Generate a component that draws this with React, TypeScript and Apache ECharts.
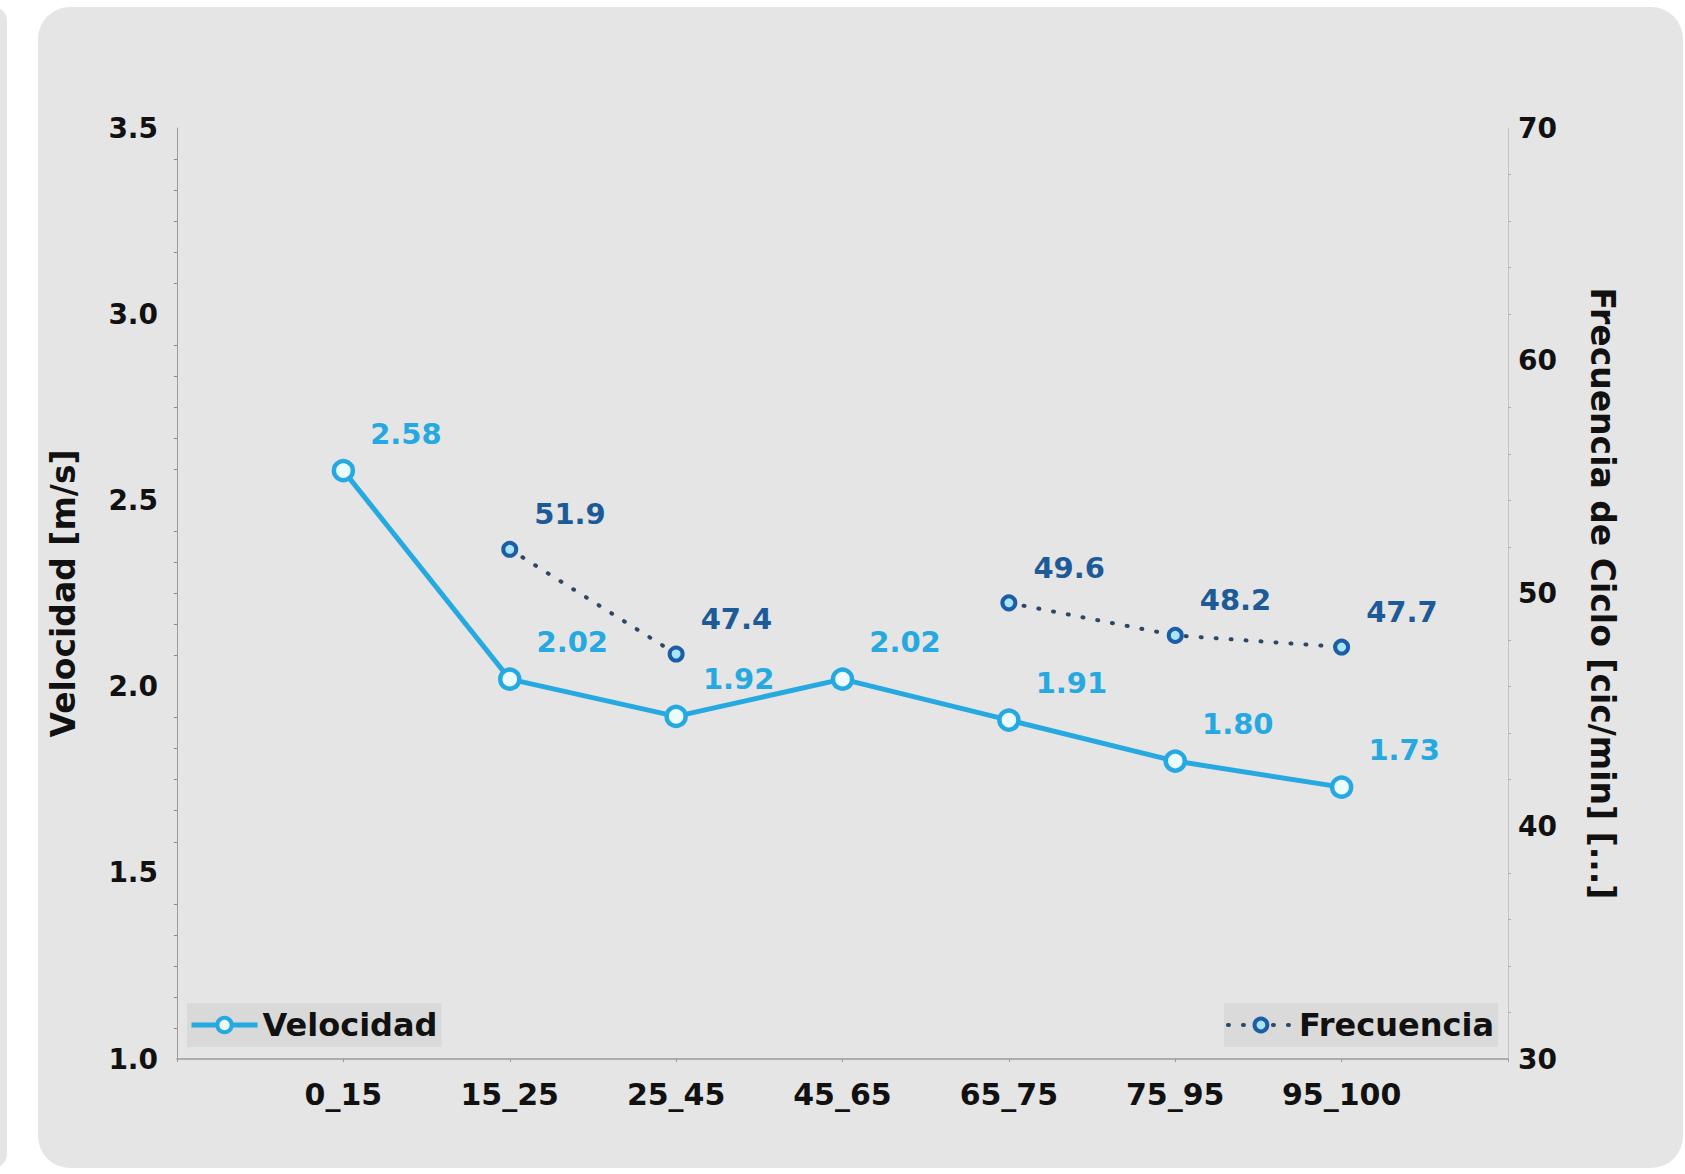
import React, { useEffect, useRef } from "react";
import * as echarts from "echarts";

const categories = ["", "0_15", "15_25", "25_45", "45_65", "65_75", "75_95", "95_100", ""];
const velocidad = [null, 2.58, 2.02, 1.92, 2.02, 1.91, 1.8, 1.73, null];
const frecuencia = [null, null, 51.9, 47.4, null, 49.6, 48.2, 47.7, null];
const leftTicks = [1.0, 3.5, 0.5];
const rightTicks = [30, 70, 10];

const LIGHT = "#26a9e0";
const DARK = "#1d5b98";
const FONT = "DejaVu Sans";

export default function App() {
  const ref = useRef<HTMLDivElement>(null);
  useEffect(() => {
    document.body.style.margin = "0";
    const chart = echarts.init(ref.current!, null, { renderer: "svg" });
    const tickLabel = { fontFamily: FONT, fontWeight: "bold", fontSize: 28, color: "#111" };
    chart.setOption({
      animation: false,
      backgroundColor: "#ffffff",
      graphic: [
        { type: "rect", shape: { x: -40, y: 7, width: 47, height: 1161, r: 14 }, style: { fill: "#e5e5e5" }, z: -10 },
        { type: "rect", shape: { x: 38, y: 7, width: 1645, height: 1161, r: 32 }, style: { fill: "#e5e5e5" }, z: -10 },
      ],
      grid: { left: 177, right: 1685 - 1508, top: 128, bottom: 1174 - 1059, containLabel: false },
      legend: [
        {
          data: ["Velocidad"],
          left: 187,
          top: 1003,
          itemWidth: 66,
          itemHeight: 18,
          itemGap: 6,
          padding: [6, 4, 6, 2],
          backgroundColor: "#d9d9d9",
          lineStyle: { width: 5 },
          itemStyle: { borderWidth: 4 },
          textStyle: { fontFamily: FONT, fontWeight: "bold", fontSize: 32, color: "#111" },
        },
        {
          data: ["Frecuencia"],
          right: 1685 - 1498,
          top: 1003,
          itemWidth: 66,
          itemHeight: 16,
          padding: [6, 4, 6, 2],
          backgroundColor: "#dadada",
          lineStyle: { width: 4 },
          itemStyle: { borderWidth: 4 },
          textStyle: { fontFamily: FONT, fontWeight: "bold", fontSize: 32, color: "#111" },
        },
      ],
      xAxis: {
        type: "category",
        data: categories,
        boundaryGap: false,
        axisLine: { lineStyle: { color: "#9a9a9a", width: 1.5 } },
        axisTick: { show: true, length: 3, lineStyle: { color: "#9a9a9a" } },
        axisLabel: { ...tickLabel, fontSize: 30, margin: 20 },
        splitLine: { show: false },
      },
      yAxis: [
        {
          type: "value",
          min: leftTicks[0],
          max: leftTicks[1],
          interval: leftTicks[2],
          name: "Velocidad [m/s]",
          nameLocation: "middle",
          nameGap: 97,
          nameTextStyle: { fontFamily: FONT, fontWeight: "bold", fontSize: 33, color: "#111" },
          axisLine: { show: true, lineStyle: { color: "#9a9a9a", width: 1 } },
          axisTick: { show: false },
          minorTick: { show: true, splitNumber: 6, length: 3, lineStyle: { color: "#888" } },
          axisLabel: { ...tickLabel, margin: 19, formatter: (v: number) => v.toFixed(1) },
          splitLine: { show: false },
        },
        {
          type: "value",
          min: rightTicks[0],
          max: rightTicks[1],
          interval: rightTicks[2],
          position: "right",
          name: "Frecuencia de Ciclo [cic/min] [...]",
          nameLocation: "middle",
          nameGap: 78,
          nameRotate: -90,
          nameTextStyle: { fontFamily: FONT, fontWeight: "bold", fontSize: 33, color: "#111" },
          axisLine: { show: true, lineStyle: { color: "#c4c4c4", width: 1 } },
          axisTick: { show: false },
          minorTick: { show: true, splitNumber: 5, length: 3, lineStyle: { color: "#b0b0b0" } },
          axisLabel: { ...tickLabel, margin: 10 },
          splitLine: { show: false },
        },
      ],
      series: [
        {
          name: "Velocidad",
          type: "line",
          yAxisIndex: 0,
          data: velocidad,
          symbol: "circle",
          symbolSize: 19,
          lineStyle: { color: LIGHT, width: 5 },
          itemStyle: { color: "#eafcff", borderColor: LIGHT, borderWidth: 4.5 },
          label: {
            show: true,
            position: "right",
            distance: 15,
            offset: [0, -37],
            formatter: (p: any) => Number(p.value).toFixed(2),
            fontFamily: FONT,
            fontWeight: "bold",
            fontSize: 29,
            color: LIGHT,
          },
          z: 3,
        },
        {
          name: "Frecuencia",
          type: "line",
          yAxisIndex: 1,
          data: frecuencia,
          symbol: "circle",
          symbolSize: 13,
          lineStyle: { color: "#2f4766", width: 4, type: [1, 14], cap: "round" },
          itemStyle: { color: "#a8e4fb", borderColor: "#1b5ea6", borderWidth: 4 },
          label: {
            show: true,
            position: "right",
            distance: 16,
            offset: [0, -35],
            formatter: (p: any) => Number(p.value).toFixed(1),
            fontFamily: FONT,
            fontWeight: "bold",
            fontSize: 29,
            color: DARK,
          },
          z: 4,
        },
      ],
    });
    return () => chart.dispose();
  }, []);
  return <div ref={ref} style={{ width: 1685, height: 1174 }} />;
}
